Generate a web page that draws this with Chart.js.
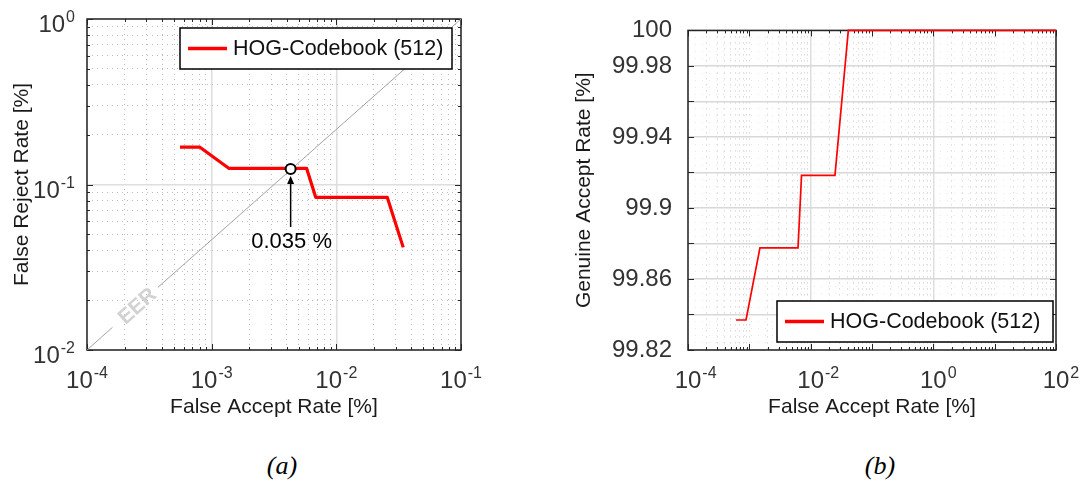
<!DOCTYPE html>
<html>
<head>
<meta charset="utf-8">
<script src="https://cdn.jsdelivr.net/npm/chart.js@4.4.0/dist/chart.umd.min.js"></script>
<style>
html, body { margin: 0; padding: 0; background: #fff; }
body { width: 1088px; height: 480px; position: relative; overflow: hidden; }
canvas { position: absolute; top: 0; }
#detChart { left: 0; }
#rocChart { left: 540px; }
.caption { position: absolute; top: 451px; width: 100px; text-align: center; line-height: 30px;
           font: italic 26px "Liberation Serif", "Times New Roman", serif; color: #000; }
</style>
</head>
<body>
<canvas id="detChart" width="500" height="430"></canvas>
<canvas id="rocChart" width="548" height="430"></canvas>
<div class="caption" style="left:232px">(a)</div>
<div class="caption" style="left:830px">(b)</div>
<script>
const SERIES_LABEL = 'HOG-Codebook (512)';

// (a) DET curve, false accept vs false reject (both in %)
const detFar = [5.57e-4, 8.05e-4, 1.38e-3, 5.78e-3, 6.83e-3, 0.0256, 0.0344];
const detFrr = [0.168, 0.168, 0.125, 0.125, 0.0837, 0.0837, 0.0417];

// EER diagonal, broken where the "EER" tag sits
const eerLineFar = [1e-4, 1.6e-4, 2.5e-4, 3.7e-4, 1e-1];
const eerLineFrr = [1e-2, 0.0137, null, 0.0239, 1];
const eerPoint = { far: 4.3e-3, frr: 0.124 };
const eerText = '0.035 %';
const eerTag = { far: 2.52e-4, frr: 0.0185, text: 'EER' };

// (b) ROC curve, false accept vs genuine accept
const rocFar = [6.07e-4, 8.83e-4, 1.49e-3, 6.22e-3, 7.1e-3, 0.0249, 0.0411, 100];
const rocGar = [99.8369, 99.8369, 99.8775, 99.8775, 99.9184, 99.9184, 100, 100];

// tick labels
const detXExp = [-4, -3, -2, -1];
const detYExp = [-2, -1, 0];
const rocXExp = [-4, -2, 0, 2];
const rocYTicks  = [99.82, 99.86, 99.9, 99.94, 99.98, 100];
const rocYLabels = ['99.82', '99.86', '99.9', '99.94', '99.98', '100'];

const FONT = '"Liberation Sans", Arial, sans-serif';
Chart.defaults.font.family = FONT;

const toPoints = (xs, ys) => xs.map((x, i) => ({ x, y: ys[i] }));

// 1..9 per decade, major only on the labelled decades
const logTicks = (e0, e1, labelled) => {
    const t = [];
    for (let e = e0; e < e1; e++)
        for (let m = 1; m < 10; m++)
            t.push({ value: m * Math.pow(10, e), major: m === 1 && labelled.includes(e), decade: m === 1 });
    t.push({ value: Math.pow(10, e1), major: labelled.includes(e1), decade: true });
    return t;
};
const linTicks = (lo, hi, step, sub) => {
    const t = [], n = Math.round((hi - lo) / step * sub);
    for (let k = 0; k <= n; k++)
        t.push({ value: +(lo + k * step / sub).toFixed(4), major: k % sub === 0, decade: k % sub === 0 });
    return t;
};

const gridOpts = (majorColor, minorColor) => ({
    drawTicks: false,
    color: c => c.tick && c.tick.major ? majorColor : minorColor,
    lineWidth: c => c.tick && c.tick.major ? 1.5 : 1
});
const borderOpts = gap => ({ display: false, dash: c => c.tick && c.tick.major ? [] : [1, gap] });
const titleOpts = (text, padding) => ({ display: true, text, color: '#1a1a1a', font: { size: 21 }, padding });

// "10" with raised exponent
function drawPower(ctx, exp, x, baseY, align) {
    ctx.font = `24px ${FONT}`;
    const bw = ctx.measureText('10').width;
    ctx.font = `16px ${FONT}`;
    const es = String(exp);
    const ew = ctx.measureText(es).width;
    let left = x - (bw + ew + 1) / 2;
    if (align === 'right') left = x - bw - ew - 1;
    if (align === 'base') left = x - bw / 2;
    ctx.fillStyle = '#333';
    ctx.textAlign = 'left';
    ctx.textBaseline = 'alphabetic';
    ctx.font = `24px ${FONT}`;
    ctx.fillText('10', left, baseY);
    ctx.font = `16px ${FONT}`;
    ctx.fillText(es, left + bw + 1, baseY - 10);
}

const powerTicks = {
    id: 'powerTicks',
    afterDraw(chart, args, o) {
        const { ctx, chartArea: a, scales } = chart;
        ctx.save();
        (o.x || []).forEach(e => drawPower(ctx, e, scales.x.getPixelForValue(Math.pow(10, e)), a.bottom + 38, o.xAlign));
        (o.y || []).forEach(e => drawPower(ctx, e, a.left - 12, scales.y.getPixelForValue(Math.pow(10, e)) + 13, 'right'));
        ctx.restore();
    }
};

// box and inward tick marks, like the matlab axes
const axesBox = {
    id: 'axesBox',
    beforeDatasetsDraw(chart, args, o) {
        const { ctx, chartArea: a, scales: { x, y } } = chart;
        ctx.save();
        ctx.strokeStyle = '#262626';
        ctx.lineWidth = 1;
        ctx.beginPath();
        x.ticks.forEach(t => {
            if (!t.decade && !o.minorX) return;
            const p = Math.round(x.getPixelForValue(t.value)) + 0.5, len = t.decade ? 6 : 3;
            ctx.moveTo(p, a.bottom); ctx.lineTo(p, a.bottom - len);
            ctx.moveTo(p, a.top); ctx.lineTo(p, a.top + len);
        });
        y.ticks.forEach(t => {
            if (!t.decade && !o.minorY) return;
            const p = Math.round(y.getPixelForValue(t.value)) + 0.5, len = t.decade ? 6 : 3;
            ctx.moveTo(a.left, p); ctx.lineTo(a.left + len, p);
            ctx.moveTo(a.right, p); ctx.lineTo(a.right - len, p);
        });
        ctx.stroke();
        ctx.lineWidth = 1.5;
        ctx.strokeRect(a.left, a.top, a.width, a.height);
        ctx.restore();
    }
};

const legendBox = {
    id: 'legendBox',
    afterDatasetsDraw(chart, args, o) {
        const { ctx, chartArea: a } = chart;
        const ds = chart.data.datasets[o.dataset];
        const x = a.right - o.right - o.width;
        const y = o.top != null ? a.top + o.top : a.bottom - o.bottom - o.height;
        const cy = y + o.height / 2;
        ctx.save();
        ctx.fillStyle = '#fff';
        ctx.fillRect(x, y, o.width, o.height);
        ctx.strokeStyle = '#000';
        ctx.lineWidth = 1.5;
        ctx.strokeRect(x, y, o.width, o.height);
        ctx.strokeStyle = ds.borderColor;
        ctx.lineWidth = 3.5;
        ctx.beginPath(); ctx.moveTo(x + 8, cy); ctx.lineTo(x + 47, cy); ctx.stroke();
        ctx.fillStyle = '#111';
        ctx.font = `21.5px ${FONT}`;
        ctx.textAlign = 'left';
        ctx.textBaseline = 'middle';
        ctx.fillText(ds.label, x + 53, cy + 1);
        ctx.restore();
    }
};

const eerNote = {
    id: 'eerNote',
    afterDatasetsDraw(chart) {
        const { ctx, scales: { x, y } } = chart;
        const px = x.getPixelForValue(eerPoint.far), py = y.getPixelForValue(eerPoint.frr);
        ctx.save();
        // arrow from the value up to the marker
        ctx.strokeStyle = '#000';
        ctx.fillStyle = '#000';
        ctx.lineWidth = 1.5;
        ctx.beginPath(); ctx.moveTo(px, py + 58); ctx.lineTo(px, py + 14); ctx.stroke();
        ctx.beginPath(); ctx.moveTo(px, py + 7); ctx.lineTo(px - 3.5, py + 15); ctx.lineTo(px + 3.5, py + 15); ctx.closePath(); ctx.fill();
        ctx.font = `22px ${FONT}`;
        ctx.textAlign = 'center';
        ctx.textBaseline = 'middle';
        ctx.fillText(eerText, px + 1, py + 73);
        // grey tag along the diagonal
        const ang = Math.atan2(y.getPixelForValue(1) - y.getPixelForValue(1e-2), x.getPixelForValue(1e-1) - x.getPixelForValue(1e-4));
        ctx.translate(x.getPixelForValue(eerTag.far), y.getPixelForValue(eerTag.frr));
        ctx.rotate(ang);
        ctx.fillStyle = '#d2d2d2';
        ctx.font = `bold 21px ${FONT}`;
        ctx.fillText(eerTag.text, 0, 1);
        ctx.restore();
    }
};

new Chart(document.getElementById('detChart'), {
    type: 'line',
    data: {
        datasets: [
            { label: 'EER', data: [{ x: eerPoint.far, y: eerPoint.frr }], showLine: false,
              pointRadius: 5, pointBorderWidth: 2, pointBorderColor: '#000', pointBackgroundColor: '#fff' },
            { label: SERIES_LABEL, data: toPoints(detFar, detFrr), borderColor: '#ff0000', borderWidth: 3.2,
              pointRadius: 0, tension: 0, borderJoinStyle: 'round' },
            { label: 'diagonal', data: toPoints(eerLineFar, eerLineFrr), borderColor: '#a3a3a3', borderWidth: 1,
              pointRadius: 0, spanGaps: false }
        ]
    },
    options: {
        responsive: false,
        animation: false,
        devicePixelRatio: 1,
        layout: { padding: { left: 0, top: 19, right: 39, bottom: 0 } },
        plugins: {
            legend: { display: false },
            tooltip: { enabled: false },
            powerTicks: { x: detXExp, y: detYExp, xAlign: 'center' },
            axesBox: { minorX: true, minorY: true },
            legendBox: { dataset: 1, right: 9, top: 9, width: 272, height: 41 }
        },
        scales: {
            x: {
                type: 'logarithmic', min: 1e-4, max: 1e-1,
                afterBuildTicks: s => { s.ticks = logTicks(-4, -1, detXExp); },
                afterFit: s => { s.height = 80; },
                ticks: { display: false },
                grid: gridOpts('#dedede', '#bcbcbc'),
                border: borderOpts(4),
                title: titleOpts('False Accept Rate [%]', { top: 0, bottom: 10 })
            },
            y: {
                type: 'logarithmic', min: 1e-2, max: 1,
                afterBuildTicks: s => { s.ticks = logTicks(-2, 0, detYExp); },
                afterFit: s => { s.width = 87; },
                ticks: { display: false },
                grid: gridOpts('#dedede', '#bcbcbc'),
                border: borderOpts(4),
                title: titleOpts('False Reject Rate [%]', { top: 10, bottom: 0 })
            }
        }
    },
    plugins: [axesBox, eerNote, legendBox, powerTicks]
});

new Chart(document.getElementById('rocChart'), {
    type: 'line',
    data: {
        datasets: [
            { label: SERIES_LABEL, data: toPoints(rocFar, rocGar), borderColor: '#ff0000', borderWidth: 1.7,
              pointRadius: 0, tension: 0, clip: 3 }
        ]
    },
    options: {
        responsive: false,
        animation: false,
        devicePixelRatio: 1,
        layout: { padding: { left: 0, top: 19, right: 32, bottom: 0 } },
        plugins: {
            legend: { display: false },
            tooltip: { enabled: false },
            powerTicks: { x: rocXExp, xAlign: 'base' },
            axesBox: { minorX: true, minorY: false },
            legendBox: { dataset: 0, right: 3, bottom: 8, width: 276, height: 41 }
        },
        scales: {
            x: {
                type: 'logarithmic', min: 1e-4, max: 1e2,
                afterBuildTicks: s => { s.ticks = logTicks(-4, 2, rocXExp); },
                afterFit: s => { s.height = 80; },
                ticks: { display: false },
                grid: gridOpts('#dedede', '#c6c6c6'),
                border: borderOpts(5),
                title: titleOpts('False Accept Rate [%]', { top: 0, bottom: 10 })
            },
            y: {
                type: 'linear', min: 99.82, max: 100,
                afterBuildTicks: s => { s.ticks = linTicks(99.82, 100, 0.02, 5); },
                afterFit: s => { s.width = 148; },
                ticks: {
                    autoSkip: false, padding: 16, color: '#333', font: { size: 24 },
                    callback: v => {
                        const i = rocYTicks.findIndex(t => Math.abs(t - v) < 1e-6);
                        return i < 0 ? '' : rocYLabels[i];
                    }
                },
                grid: gridOpts('#d8d8d8', '#e6e6e6'),
                border: borderOpts(6),
                title: titleOpts('Genuine Accept Rate [%]', { top: 32, bottom: 0 })
            }
        }
    },
    plugins: [axesBox, legendBox, powerTicks]
});
</script>
</body>
</html>
